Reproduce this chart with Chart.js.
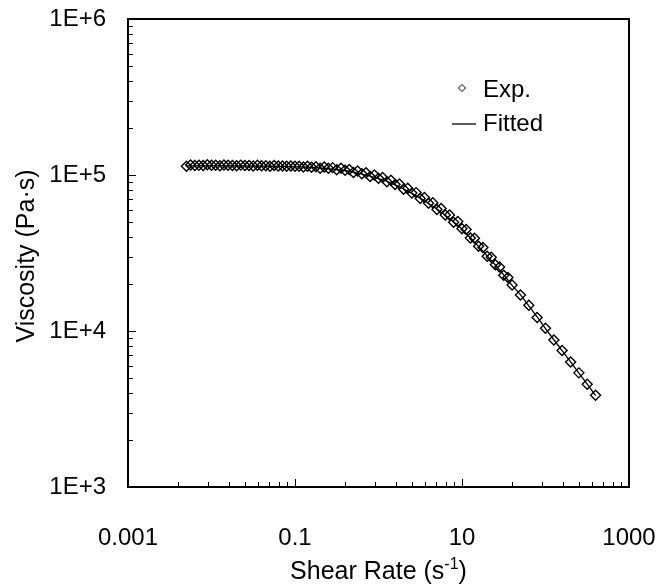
<!DOCTYPE html>
<html><head><meta charset="utf-8">
<script src="https://cdn.jsdelivr.net/npm/chart.js@4/dist/chart.umd.min.js"></script>
<style>html,body{margin:0;padding:0;background:#fff}#wrap{position:relative;width:660px;height:586px}</style>
</head><body><div id="wrap"><canvas id="c" width="660" height="586"></canvas></div>
<script>
// ---- data ----
const shearRateA = [0.00501,0.00631,0.00794,0.0100,0.0126,0.0158,0.0200,0.0251,0.0316,0.0398,
  0.0501,0.0631,0.0794,0.100,0.126,0.158,0.200,0.251,0.316,0.398,
  0.501,0.631,0.794,1.00,1.26,1.58,2.00,2.51,3.16,3.98,
  5.01,6.31,7.94,10.0,12.6,15.8,20.0,25.1,31.6,39.8,
  50.1,63.1,79.4,100,126,158,200,251,316,398];
const viscosityA = [113800,115200,114900,115600,114700,115300,114600,115100,114200,114800,
  113900,114400,113600,113800,112400,112200,110400,110300,108000,107300,
  103600,101800,97800,95300,90600,86900,80900,76600,70700,65900,
  60100,55500,49700,45300,39400,34900,30100,26600,22800,19700,
  17000,14600,12200,10400,8750,7510,6320,5390,4550,3870];
const shearRateB = [0.00562,0.00708,0.00891,0.0112,0.0141,0.0178,0.0224,0.0282,0.0355,0.0447,
  0.0562,0.0708,0.0891,0.112,0.141,0.178,0.224,0.282,0.355,0.447,
  0.562,0.708,0.891,1.12,1.41,1.78,2.24,2.82,3.55,4.47,
  5.62,7.08,8.91,11.2,14.1,17.8,22.4,28.2,35.5];
const viscosityB = [116000,115500,116200,115400,115900,115100,115700,115000,115300,114600,
  114900,114200,114100,113900,113600,113000,112400,111500,110300,108600,
  106100,103300,100100,96500,92400,87500,82300,77100,71700,66300,
  61000,55500,50300,44800,39300,34300,29700,25700,22000];
const fittedViscosity = [114500,114500,114400,114400,114300,114300,114200,114100,114000,113900,
  113700,113500,113200,112900,112500,111900,110900,109900,108400,106900,
  104200,101400,98400,94800,91200,86500,81300,76200,71100,65600,
  60500,55200,50000,45100,39600,34800,30300,26500,22900,19600,
  17100,14500,12300,10350,8790,7480,6350,5370,4570,3850];
const xTickValues = [0.001, 0.1, 10, 1000];
const xTickLabels = ['0.001', '0.1', '10', '1000'];
const yTickValues = [1e3, 1e4, 1e5, 1e6];
const yTickLabels = ['1E+3', '1E+4', '1E+5', '1E+6'];
const xMinorFactors = [4, 9, 16, 25, 36, 49, 64, 81];
const yMinorFactors = [2, 3, 4, 5, 6, 7, 8, 9];
const xTitleMain = 'Shear Rate (s';
const xTitleSup = '-1';
const xTitleEnd = ')';
const yTitle = 'Viscosity (Pa\u00B7s)';
const legendLabels = ['Exp.', 'Fitted'];

const FONT = '"Liberation Sans", Arial, sans-serif';
const TICK_SIZE = 24;
const TITLE_SIZE = 25;

const expPoints = shearRateA.map((x, i) => ({x, y: viscosityA[i]}))
  .concat(shearRateB.map((x, i) => ({x, y: viscosityB[i]})))
  .sort((a, b) => a.x - b.x);
const fitPoints = shearRateA.map((x, i) => ({x, y: fittedViscosity[i]}));

const framePlugin = {
  id: 'frame',
  afterDraw(chart) {
    const {ctx, chartArea: a, scales: {x, y}} = chart;
    ctx.save();
    ctx.strokeStyle = '#000';
    ctx.lineWidth = 1;
    ctx.beginPath();
    xTickValues.forEach((v, i) => {
      const px = Math.round(x.getPixelForValue(v)) + 0.5;
      ctx.moveTo(px, a.bottom); ctx.lineTo(px, a.bottom - 8);
      if (i < xTickValues.length - 1) {
        xMinorFactors.forEach(m => {
          const p = Math.round(x.getPixelForValue(v * m)) + 0.5;
          ctx.moveTo(p, a.bottom); ctx.lineTo(p, a.bottom - 5);
        });
      }
    });
    yTickValues.forEach((v, i) => {
      const py = Math.round(y.getPixelForValue(v)) + 0.5;
      ctx.moveTo(a.left, py); ctx.lineTo(a.left + 8, py);
      if (i < yTickValues.length - 1) {
        yMinorFactors.forEach(m => {
          const p = Math.round(y.getPixelForValue(v * m)) + 0.5;
          ctx.moveTo(a.left, p); ctx.lineTo(a.left + 5, p);
        });
      }
    });
    ctx.stroke();
    // frame
    ctx.lineWidth = 2;
    ctx.strokeRect(a.left, a.top, a.right - a.left, a.bottom - a.top);

    // titles
    ctx.fillStyle = '#000';
    ctx.font = TITLE_SIZE + 'px ' + FONT;
    ctx.save();
    ctx.translate(27, 256);
    ctx.rotate(-Math.PI / 2);
    ctx.textAlign = 'center';
    ctx.textBaseline = 'middle';
    ctx.fillText(yTitle, 0, 0);
    ctx.restore();

    ctx.textBaseline = 'alphabetic';
    ctx.textAlign = 'left';
    const supSize = Math.round(TITLE_SIZE * 0.62);
    ctx.font = TITLE_SIZE + 'px ' + FONT;
    const w1 = ctx.measureText(xTitleMain).width;
    const w3 = ctx.measureText(xTitleEnd).width;
    ctx.font = supSize + 'px ' + FONT;
    const w2 = ctx.measureText(xTitleSup).width;
    const cx = (a.left + a.right) / 2;
    const sx = cx - (w1 + w2 + w3) / 2;
    const by = 579;
    ctx.font = TITLE_SIZE + 'px ' + FONT;
    ctx.fillText(xTitleMain, sx, by);
    ctx.font = supSize + 'px ' + FONT;
    ctx.fillText(xTitleSup, sx + w1, by - 10);
    ctx.font = TITLE_SIZE + 'px ' + FONT;
    ctx.fillText(xTitleEnd, sx + w1 + w2, by);

    // legend
    ctx.font = TICK_SIZE + 'px ' + FONT;
    ctx.textBaseline = 'middle';
    ctx.lineWidth = 1;
    ctx.beginPath();
    const dx = 462, dy = 88, r = 3.5;
    ctx.moveTo(dx - r, dy); ctx.lineTo(dx, dy - r); ctx.lineTo(dx + r, dy); ctx.lineTo(dx, dy + r); ctx.closePath();
    ctx.stroke();
    ctx.fillText(legendLabels[0], 483, 90);
    ctx.lineWidth = 1.3;
    ctx.beginPath();
    ctx.moveTo(452, 124); ctx.lineTo(476, 124);
    ctx.stroke();
    ctx.fillText(legendLabels[1], 483, 124);
    ctx.restore();
  }
};

new Chart(document.getElementById('c'), {
  type: 'scatter',
  data: {
    datasets: [
      {label: legendLabels[0], data: expPoints, pointStyle: 'rectRot', pointRadius: 5,
       pointBorderWidth: 1.4, borderColor: '#000', backgroundColor: 'rgba(0,0,0,0)', showLine: false},
      {label: legendLabels[1], data: fitPoints, showLine: true, pointRadius: 0, borderColor: '#000',
       borderWidth: 1.3, backgroundColor: 'rgba(0,0,0,0)', fill: false}
    ]
  },
  options: {
    responsive: false, animation: false, devicePixelRatio: 1,
    layout: {padding: {top: 19, right: 31, left: 0, bottom: 0}},
    plugins: {legend: {display: false}, tooltip: {enabled: false}},
    scales: {
      x: {
        type: 'logarithmic', min: 0.001, max: 1000, position: 'bottom',
        afterBuildTicks: s => { s.ticks = xTickValues.map(v => ({value: v})); },
        afterFit: s => { s.height = 99; s.paddingLeft = 0; s.paddingRight = 0; },
        grid: {display: false, drawTicks: false}, border: {display: false},
        ticks: {font: {family: FONT, size: TICK_SIZE}, color: '#000', padding: 37, maxRotation: 0,
                autoSkip: false, callback: (v, i) => xTickLabels[i]}
      },
      y: {
        type: 'logarithmic', min: 1000, max: 1e6, position: 'left',
        afterBuildTicks: s => { s.ticks = yTickValues.map(v => ({value: v})); },
        afterFit: s => { s.width = 128; s.paddingTop = 0; s.paddingBottom = 0; },
        grid: {display: false, drawTicks: false}, border: {display: false},
        ticks: {font: {family: FONT, size: TICK_SIZE}, color: '#000', padding: 22,
                autoSkip: false, callback: (v, i) => yTickLabels[i]}
      }
    }
  },
  plugins: [framePlugin]
});
</script>
</body></html>
